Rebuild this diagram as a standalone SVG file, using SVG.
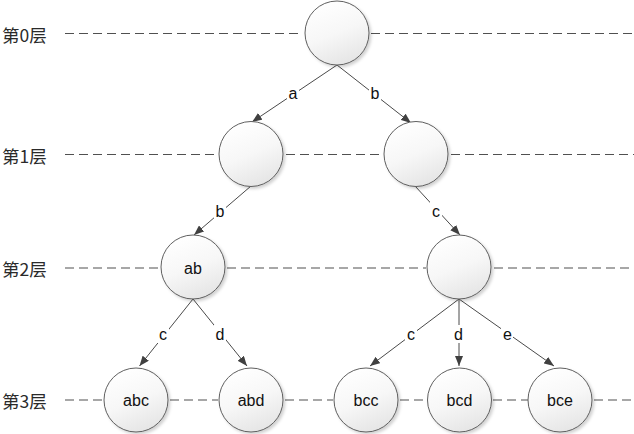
<svg xmlns="http://www.w3.org/2000/svg" width="634" height="434" viewBox="0 0 634 434">
  <defs>
    <linearGradient id="ballFill" x1="0.3" y1="0" x2="0.7" y2="1">
      <stop offset="0" stop-color="#ffffff"/>
      <stop offset="0.5" stop-color="#f7f7f7"/>
      <stop offset="1" stop-color="#e4e4e4"/>
    </linearGradient>
    <filter id="shadow" x="-20%" y="-20%" width="150%" height="150%">
      <feDropShadow dx="2" dy="2" stdDeviation="1.5" flood-color="#000" flood-opacity="0.18"/>
    </filter>
    <marker id="arrow" viewBox="0 0 10 8" refX="10" refY="4" markerWidth="10" markerHeight="8" markerUnits="userSpaceOnUse" orient="auto">
      <path d="M0,0 L10,4 L0,8 Z" fill="#404040"/>
    </marker>
  </defs>
  <style>
    .level { font-family: "Noto Sans CJK SC", "Liberation Sans", sans-serif; font-size: 17.5px; fill: #2a2a2a; dominant-baseline: central; }
    .dash { stroke: #505050; stroke-width: 1.2; stroke-dasharray: 9 5; fill: none; }
    .node ellipse { fill: url(#ballFill); stroke: #5f5f5f; stroke-width: 1; filter: url(#shadow); }
    .node text { font-family: "Liberation Sans", "Noto Sans", sans-serif; font-size: 16px; fill: #111; text-anchor: middle; dominant-baseline: central; }
    .edge { stroke: #4a4a4a; stroke-width: 1; fill: none; marker-end: url(#arrow); }
    .elabel { font-family: "Liberation Sans", "Noto Sans", sans-serif; font-size: 16px; fill: #111; text-anchor: middle; dominant-baseline: central; }
    .lblbg { fill: #ffffff; }
  </style>

  <rect width="634" height="434" fill="#ffffff"/>

  <!-- level captions -->
  <g id="level-captions">
    <text class="level" x="2" y="34">第0层</text>
    <text class="level" x="2" y="155">第1层</text>
    <text class="level" x="2" y="268">第2层</text>
    <text class="level" x="2" y="400">第3层</text>
  </g>

  <!-- dashed level guides, broken at each node -->
  <g id="level-guides">
    <line class="dash" x1="65" y1="33.5" x2="303" y2="33.5"/>
    <line class="dash" x1="371" y1="33.5" x2="634" y2="33.5"/>

    <line class="dash" x1="65" y1="154.5" x2="218" y2="154.5"/>
    <line class="dash" x1="286" y1="154.5" x2="383" y2="154.5"/>
    <line class="dash" x1="451" y1="154.5" x2="634" y2="154.5"/>

    <line class="dash" x1="65" y1="268" x2="159" y2="268"/>
    <line class="dash" x1="227" y1="268" x2="426" y2="268"/>
    <line class="dash" x1="494" y1="268" x2="634" y2="268"/>

    <line class="dash" x1="65" y1="400" x2="103" y2="400"/>
    <line class="dash" x1="170" y1="400" x2="218" y2="400"/>
    <line class="dash" x1="285" y1="400" x2="333" y2="400"/>
    <line class="dash" x1="400" y1="400" x2="426" y2="400"/>
    <line class="dash" x1="493" y1="400" x2="528" y2="400"/>
    <line class="dash" x1="594" y1="400" x2="634" y2="400"/>
  </g>

  <!-- connectors with their letters -->
  <g id="connectors">
    <line class="edge" x1="337" y1="65" x2="252" y2="122"/>
    <line class="edge" x1="337" y1="65" x2="411" y2="123"/>
    <line class="edge" x1="251" y1="186" x2="194" y2="235"/>
    <line class="edge" x1="415" y1="186" x2="460" y2="235"/>
    <line class="edge" x1="193" y1="299" x2="139.5" y2="366"/>
    <line class="edge" x1="193" y1="299" x2="247" y2="366"/>
    <line class="edge" x1="459" y1="299" x2="370" y2="366"/>
    <line class="edge" x1="459" y1="299" x2="459" y2="366"/>
    <line class="edge" x1="459" y1="299" x2="554" y2="366"/>

    <rect class="lblbg" x="287" y="84" width="12" height="18"/>
    <text class="elabel" x="293" y="93">a</text>
    <rect class="lblbg" x="369" y="84" width="12" height="18"/>
    <text class="elabel" x="375" y="93">b</text>
    <rect class="lblbg" x="214" y="202" width="12" height="18"/>
    <text class="elabel" x="220" y="211">b</text>
    <rect class="lblbg" x="430" y="202" width="12" height="18"/>
    <text class="elabel" x="436" y="211">c</text>
    <rect class="lblbg" x="157" y="325" width="12" height="18"/>
    <text class="elabel" x="163" y="334">c</text>
    <rect class="lblbg" x="214" y="325" width="12" height="18"/>
    <text class="elabel" x="220" y="334">d</text>
    <rect class="lblbg" x="405" y="325" width="12" height="18"/>
    <text class="elabel" x="411" y="334">c</text>
    <rect class="lblbg" x="452" y="325" width="12" height="18"/>
    <text class="elabel" x="458.5" y="334">d</text>
    <rect class="lblbg" x="501" y="325" width="12" height="18"/>
    <text class="elabel" x="507.5" y="334">e</text>
  </g>

  <!-- nodes -->
  <g id="n-root" class="node"><ellipse cx="337" cy="33" rx="32" ry="32"/></g>
  <g id="n-a" class="node"><ellipse cx="251" cy="154" rx="32" ry="32.5"/></g>
  <g id="n-b" class="node"><ellipse cx="416" cy="154" rx="32" ry="32.5"/></g>
  <g id="n-ab" class="node"><ellipse cx="193" cy="267" rx="32" ry="32"/><text x="193" y="268">ab</text></g>
  <g id="n-bc" class="node"><ellipse cx="459" cy="267" rx="32" ry="32"/></g>
  <g id="n-abc" class="node"><ellipse cx="136" cy="400" rx="32" ry="32"/><text x="136" y="400">abc</text></g>
  <g id="n-abd" class="node"><ellipse cx="251" cy="400" rx="32" ry="32"/><text x="251" y="400">abd</text></g>
  <g id="n-bcc" class="node"><ellipse cx="366" cy="400" rx="32" ry="32"/><text x="366" y="400">bcc</text></g>
  <g id="n-bcd" class="node"><ellipse cx="459.5" cy="400" rx="32" ry="32"/><text x="459.5" y="400">bcd</text></g>
  <g id="n-bce" class="node"><ellipse cx="560" cy="400" rx="32" ry="32"/><text x="560" y="400">bce</text></g>
</svg>
